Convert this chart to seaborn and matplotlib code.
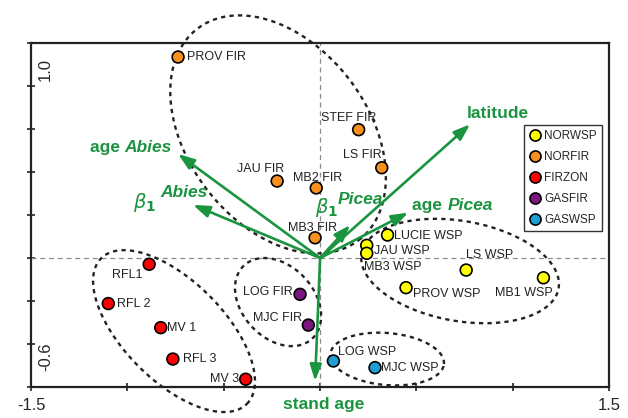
import numpy as np
import pandas as pd
import matplotlib
matplotlib.use('Agg')
import matplotlib.pyplot as plt
from matplotlib.lines import Line2D
import seaborn as sns

# Site scores (axis 1, axis 2)
sites = ['PROV FIR', 'STEF FIR', 'LS FIR', 'JAU FIR', 'MB2 FIR', 'MB3 FIR',
         'LUCIE WSP', 'JAU WSP', 'MB3 WSP', 'LS WSP', 'MB1 WSP', 'PROV WSP',
         'LOG WSP', 'MJC WSP',
         'RFL1', 'RFL 2', 'MV 1', 'RFL 3', 'MV 3',
         'LOG FIR', 'MJC FIR']
site_x = [-0.737, 0.200, 0.320, -0.223, -0.020, -0.026,
          0.350, 0.242, 0.242, 0.758, 1.159, 0.446,
          0.069, 0.285,
          -0.887, -1.099, -0.827, -0.764, -0.386,
          -0.104, -0.061]
site_y = [0.935, 0.597, 0.420, 0.358, 0.326, 0.094,
          0.107, 0.059, 0.022, -0.056, -0.092, -0.138,
          -0.479, -0.510,
          -0.029, -0.212, -0.324, -0.470, -0.564,
          -0.169, -0.312]
groups = ['NORFIR'] * 6 + ['NORWSP'] * 6 + ['GASWSP'] * 2 + ['FIRZON'] * 5 + ['GASFIR'] * 2

group_order = ['NORWSP', 'NORFIR', 'FIRZON', 'GASFIR', 'GASWSP']
group_colors = ['#ffff00', '#f7901e', '#ff0000', '#7d1580', '#1e9fd4']

# Environmental vectors
vec_names = ['latitude', 'age Abies', 'b1 Abies', 'b1 Picea', 'age Picea', 'stand age']
vec_x = [0.778, -0.737, -0.659, 0.156, 0.457, -0.026]
vec_y = [0.622, 0.484, 0.247, 0.153, 0.211, -0.572]

green = '#1b9440'
narrow = ['Liberation Sans Narrow', 'Liberation Sans', 'DejaVu Sans']

sns.set_style('white')
plt.rcParams['font.family'] = ['Liberation Sans', 'DejaVu Sans']

fig, ax = plt.subplots(figsize=(6.28, 4.18), dpi=100)
fig.subplots_adjust(left=0.0494, right=0.970, bottom=0.0742, top=0.897)

ax.set_xlim(-1.5, 1.5)
ax.set_ylim(-0.6, 1.0)

ax.axhline(0, color='#8c8c8c', lw=0.9, dashes=(4, 3), zorder=1)
ax.axvline(0, color='#8c8c8c', lw=0.9, dashes=(4, 3), zorder=1)

# dashed group outlines: center (data), semi-axes (px), angle (deg)
outlines = [(-0.218, 0.575, 133, 90, -52.7),
            (-0.758, -0.340, 103, 50, -45),
            (-0.218, -0.205, 50, 36, -47),
            (0.7265, -0.0605, 100, 50, -10),
            (0.348, -0.470, 57, 26, -5)]
t = np.linspace(0, 2 * np.pi, 300)
for cx, cy, a, b, ang in outlines:
    c = ax.transData.transform((cx, cy))
    th = np.deg2rad(ang)
    dx = a * np.cos(t) * np.cos(th) - b * np.sin(t) * np.sin(th)
    dy = a * np.cos(t) * np.sin(th) + b * np.sin(t) * np.cos(th)
    pts = ax.transData.inverted().transform(np.column_stack([c[0] + dx, c[1] + dy]))
    ax.plot(pts[:, 0], pts[:, 1], color='#222222', lw=1.7, ls=(0, (1.8, 1.8)),
            clip_on=False, zorder=2)

# vectors
for vx, vy in zip(vec_x, vec_y):
    ax.annotate('', xy=(vx, vy), xytext=(0, 0),
                arrowprops=dict(arrowstyle='-|>,head_length=0.7,head_width=0.25',
                                color=green, lw=1.9, shrinkA=0, shrinkB=0,
                                mutation_scale=14),
                annotation_clip=False, zorder=3)

lab = dict(color=green, fontsize=12.5, fontweight='bold', textcoords='offset points',
           annotation_clip=False)
ax.annotate('latitude', (vec_x[0], vec_y[0]), xytext=(20, 7.5), ha='center', va='center', **lab)
t1 = ax.annotate('Abies', (vec_x[1], vec_y[1]), xytext=(-4.5, 4.5), ha='right', va='center',
                 style='italic', **lab)
ax.annotate('age ', (0, 0.5), xycoords=t1, ha='right', va='center', color=green,
            fontsize=12.5, fontweight='bold')
ax.annotate('Abies', (vec_x[2], vec_y[2]), xytext=(-6.5, 8.6), ha='center', va='center',
            style='italic', **lab)
ax.annotate(r'$\beta_\mathbf{1}$', (vec_x[2], vec_y[2]), xytext=(-26.5, 2), ha='right',
            va='center', color=green, fontsize=14, textcoords='offset points')
ax.annotate('Picea', (vec_x[3], vec_y[3]), xytext=(7.2, 18.7), ha='center', va='center',
            style='italic', **lab)
ax.annotate(r'$\beta_\mathbf{1}$', (vec_x[3], vec_y[3]), xytext=(-8.6, 12.5), ha='right',
            va='center', color=green, fontsize=14, textcoords='offset points')
t2 = ax.annotate('age ', (vec_x[4], vec_y[4]), xytext=(3, 5), ha='left', va='center', **lab)
ax.annotate('Picea', (1, 0.5), xycoords=t2, ha='left', va='center', color=green,
            fontsize=12.5, fontweight='bold', style='italic')
ax.annotate('stand age', (vec_x[5], vec_y[5]), xytext=(6.5, -16.6), ha='center', va='center', **lab)

# sites
df = pd.DataFrame({'site': sites, 'x': site_x, 'y': site_y, 'group': groups})
palette = dict(zip(group_order, group_colors))
sns.scatterplot(data=df, x='x', y='y', hue='group', hue_order=group_order, palette=palette,
                s=72, edgecolor='black', linewidth=1.2, legend=False, ax=ax, zorder=5)

# label offsets (points) and alignment per site
offsets = {
    'PROV FIR': (6.5, 0, 'left'), 'STEF FIR': (-7, 8.6, 'center'), 'LS FIR': (-14, 9.4, 'center'),
    'JAU FIR': (-12, 8.6, 'center'), 'MB2 FIR': (1, 7.2, 'center'), 'MB3 FIR': (-1.5, 7.2, 'center'),
    'LUCIE WSP': (5, -0.5, 'left'), 'JAU WSP': (5, -4, 'left'), 'MB3 WSP': (-2, -10, 'left'),
    'LS WSP': (0, 11, 'left'), 'MB1 WSP': (-14, -11, 'center'), 'PROV WSP': (5, -4.5, 'left'),
    'LOG WSP': (3, 6.5, 'left'), 'MJC WSP': (4.5, 0, 'left'),
    'RFL1': (-5, -8, 'right'), 'RFL 2': (6.5, -0.5, 'left'), 'MV 1': (4.5, 0, 'left'),
    'RFL 3': (7, 0, 'left'), 'MV 3': (-4.5, 0, 'right'),
    'LOG FIR': (-5, 1.5, 'right'), 'MJC FIR': (-4.5, 5, 'right'),
}
for name, x, y in zip(sites, site_x, site_y):
    ox, oy, ha = offsets[name]
    ax.annotate(name, (x, y), xytext=(ox, oy), textcoords='offset points', ha=ha, va='center',
                fontsize=9, family=narrow, color='#222222', zorder=6)

handles = [Line2D([], [], marker='o', ls='', markersize=8, markerfacecolor=c,
                  markeredgecolor='black', markeredgewidth=1.2)
           for c in group_colors]
leg = ax.legend(handles, group_order, loc='upper right', bbox_to_anchor=(0.988, 0.762),
                frameon=True, fancybox=False, edgecolor='#333333', framealpha=1,
                prop={'family': narrow, 'size': 8.5}, labelspacing=0.75, handlelength=0.9,
                handletextpad=0.35, borderpad=0.45, borderaxespad=0)
leg.get_frame().set_linewidth(1.0)

# axes frame and ticks
for sp in ax.spines.values():
    sp.set_color('#222222')
    sp.set_linewidth(1.6)
ax.set_xticks(np.arange(-1.5, 1.51, 0.5))
ax.set_xticklabels(['-1.5', '', '', '', '', '', '1.5'])
ax.set_yticks(np.arange(-0.6, 1.01, 0.2))
ax.set_yticklabels([])
ax.tick_params(axis='both', direction='inout', length=6, width=1.2, color='#222222',
               labelsize=12, bottom=True, left=True, pad=5)
ax.text(0.024, 0.924, '1.0', transform=ax.transAxes, rotation=90, ha='center', va='center',
        fontsize=12)
ax.text(0.026, 0.087, '-0.6', transform=ax.transAxes, rotation=90, ha='center', va='center',
        fontsize=12)
ax.set_xlabel('')
ax.set_ylabel('')

fig.savefig('out.png', dpi=100)
